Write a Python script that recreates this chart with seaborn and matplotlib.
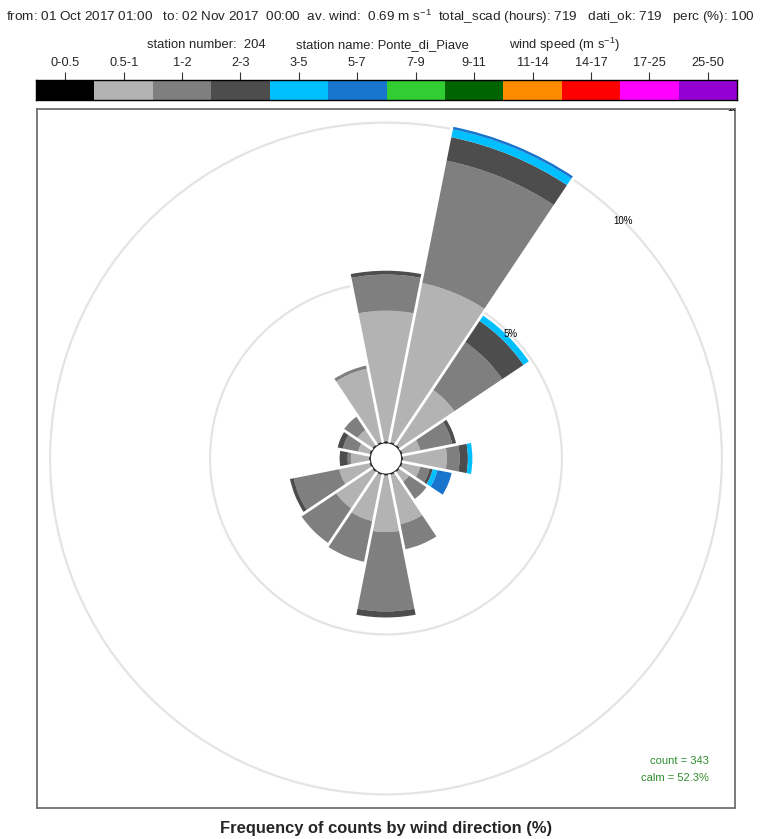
import numpy as np
import matplotlib
matplotlib.use("Agg")
import matplotlib.pyplot as plt
import seaborn as sns
from matplotlib.colors import ListedColormap

# ── Data ───────────────────────────────────────────────────────────────────
DIRS = ["N", "NNE", "NE", "ENE", "E", "ESE", "SE", "SSE",
        "S", "SSW", "SW", "WSW", "W", "WNW", "NW", "NNW"]
ANGLES = [0, 22.5, 45, 67.5, 90, 112.5, 135, 157.5,
          180, 202.5, 225, 247.5, 270, 292.5, 315, 337.5]

SPEED_BINS = ["0-0.5", "0.5-1", "1-2", "2-3", "3-5", "5-7",
              "7-9", "9-11", "11-14", "14-17", "17-25", "25-50"]
BIN_COLORS = ["#000000", "#b3b3b3", "#7f7f7f", "#4d4d4d", "#00bfff", "#1874cd",
              "#32cd32", "#006400", "#ff8c00", "#ff0000", "#ff00ff", "#9400d3"]

# frequency of counts (%) per direction, one list per speed bin (0-0.5 is calm)
F_05_1 = [4.12, 5.10, 2.10, 0.60, 1.40, 0.60, 0.40, 1.60,
          1.80, 1.50, 1.40, 1.00, 0.60, 0.40, 0.60, 2.37]
F_1_2 = [1.13, 3.90, 1.80, 1.02, 0.40, 0.30, 0.65, 0.80,
         2.48, 1.30, 1.30, 1.45, 0.10, 0.48, 0.50, 0.10]
F_2_3 = [0.12, 0.75, 0.80, 0.12, 0.26, 0.10, 0.00, 0.00,
         0.19, 0.00, 0.00, 0.12, 0.25, 0.17, 0.00, 0.00]
F_3_5 = [0.00, 0.25, 0.20, 0.00, 0.14, 0.15, 0.00, 0.00,
         0.00, 0.00, 0.00, 0.00, 0.00, 0.00, 0.00, 0.00]
F_5_7 = [0.00, 0.08, 0.00, 0.00, 0.00, 0.45, 0.00, 0.00,
         0.00, 0.00, 0.00, 0.00, 0.00, 0.00, 0.00, 0.00]

GRID_PCT = [5, 10, 15]
COUNT = 343
CALM = 52.3

HEADER = ("from: 01 Oct 2017 01:00   to: 02 Nov 2017  00:00  av. wind:  0.69 m s$^{-1}$"
          "  total_scad (hours): 719   dati_ok: 719   perc (%): 100")
TITLE = "Frequency of counts by wind direction (%)"

# ── Setup ──────────────────────────────────────────────────────────────────
sns.set_theme(style="white")
plt.rcParams["font.family"] = ["Liberation Sans", "DejaVu Sans"]
plt.rcParams["mathtext.fontset"] = "custom"
plt.rcParams["mathtext.rm"] = "Liberation Sans"

W, H = 761, 839
fig = plt.figure(figsize=(W / 100, H / 100), dpi=100)
fig.patch.set_facecolor("white")


def fbox(x0, y0, x1, y1):
    return [x0 / W, 1 - y1 / H, (x1 - x0) / W, (y1 - y0) / H]


# panel frame
box = fig.add_axes(fbox(37, 109, 735, 808))
box.set_xticks([])
box.set_yticks([])
for s in box.spines.values():
    s.set_color("#707070")
    s.set_linewidth(1.3)

# polar rose
RMAX = 10.41
pax = fig.add_axes(fbox(37, 109, 735, 808), projection="polar")
pax.patch.set_alpha(0)
pax.set_theta_zero_location("N")
pax.set_theta_direction(-1)
pax.set_rorigin(-0.5)
pax.set_ylim(0, RMAX)
pax.spines["polar"].set_visible(False)
pax.set_axisbelow(True)
pax.set_yticks(GRID_PCT[:2])
pax.set_yticklabels([])
pax.set_xticks([])
pax.grid(True, axis="y", color="#e4e4e4", lw=1.6)

theta = np.deg2rad(ANGLES)
width = np.deg2rad(22.5)
bottom = np.zeros(len(ANGLES))
for vals, col in zip([F_05_1, F_1_2, F_2_3, F_3_5, F_5_7], BIN_COLORS[1:6]):
    vals = np.array(vals)
    pax.bar(theta, vals, width=width, bottom=bottom, color=col,
            edgecolor="none", linewidth=0, zorder=2)
    bottom += vals

# white separators between neighbouring sectors, only as long as the bars
reach = np.maximum(bottom, np.roll(bottom, -1))
for t, r in zip(theta + width / 2, reach):
    pax.plot([t, t], [0, r + 0.05], color="white", lw=2.0,
             solid_capstyle="butt", zorder=3)

for g in GRID_PCT:
    t = pax.text(np.deg2rad(45), g, f"{g}%", ha="center", va="center",
                 fontsize=7, color="black", zorder=4)
    t.set_clip_box(box.bbox)
    t.set_clip_on(True)

fig.text(709 / W, 1 - 761 / H, f"count = {COUNT}", ha="right", va="center",
         color="#2e8b2e", fontsize=8)
fig.text(709 / W, 1 - 778 / H, f"calm = {CALM}%", ha="right", va="center",
         color="#2e8b2e", fontsize=8)

# ── Speed legend ───────────────────────────────────────────────────────────
leg = fig.add_axes(fbox(36, 80, 737, 100))
sns.heatmap(np.arange(len(SPEED_BINS))[None, :], ax=leg,
            cmap=ListedColormap(BIN_COLORS), vmin=-0.5, vmax=11.5,
            cbar=False, xticklabels=SPEED_BINS, yticklabels=False)
leg.xaxis.tick_top()
leg.tick_params(axis="x", top=True, bottom=False, labeltop=True, labelbottom=False,
                length=6, width=0.8, color="#333333", labelsize=9.2, pad=2,
                labelrotation=0)
for s in leg.spines.values():
    s.set_visible(True)
    s.set_color("black")
    s.set_linewidth(1)

# ── Header / title ─────────────────────────────────────────────────────────
fig.text(380 / W, 1 - 17 / H, HEADER, ha="center", va="center", fontsize=9.7)
fig.text(147 / W, 1 - 45 / H, "station number:  204", ha="left", va="center", fontsize=9.4)
fig.text(296 / W, 1 - 45 / H, "station name: Ponte_di_Piave", ha="left", va="center", fontsize=9.4)
fig.text(509 / W, 1 - 45 / H, "wind speed (m s$^{-1}$)", ha="left", va="center", fontsize=9.4)
fig.text(386 / W, 1 - 829 / H, TITLE, ha="center", va="center",
         fontsize=11.9, fontweight="bold")

fig.savefig("out.png", dpi=100)
